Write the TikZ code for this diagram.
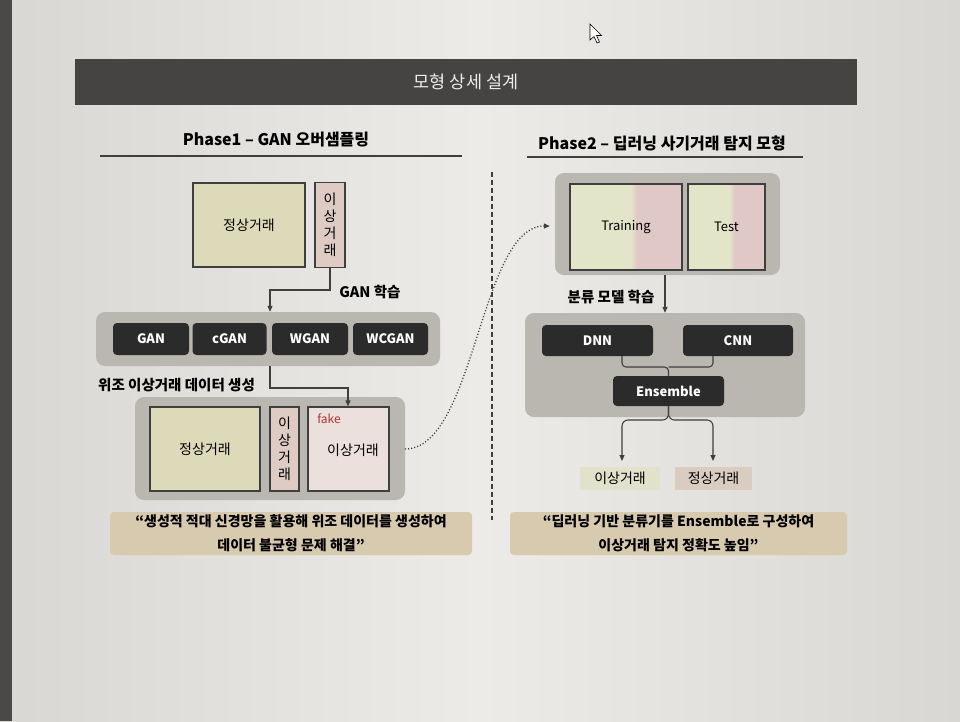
\documentclass[tikz,border=0pt]{standalone}
\usepackage{fontspec}
\setmainfont{Noto Sans CJK KR}
\usetikzlibrary{arrows.meta,calc}
\definecolor{bgc}{HTML}{D9D7D3}
\definecolor{bgl}{HTML}{ECEBE7}
\definecolor{strip}{HTML}{4B4947}
\definecolor{barc}{HTML}{454443}
\definecolor{panelc}{HTML}{BAB7B1}
\definecolor{darkc}{HTML}{2B2B2B}
\definecolor{khaki}{HTML}{DCDAB9}
\definecolor{pinkc}{HTML}{DDCBC4}
\definecolor{quotec}{HTML}{D7CAAF}
\definecolor{resa}{HTML}{E2E1CC}
\definecolor{resb}{HTML}{DACCC1}
\definecolor{linec}{HTML}{3F3F3F}
\definecolor{fakered}{HTML}{B03232}
\definecolor{traing}{HTML}{E3E5C8}
\definecolor{trainp}{HTML}{E0C8C6}
\pgfdeclarehorizontalshading{trainsh}{100bp}{color(0bp)=(traing); color(52bp)=(traing); color(55bp)=(trainp); color(100bp)=(trainp)}
\tikzset{
  panel/.style={fill=panelc, rounded corners=9pt, draw=none},
  darkbtn/.style={fill=darkc, rounded corners=4pt, text=white, font=\bfseries\fontsize{13}{15}\selectfont, inner sep=0pt},
  databox/.style={draw=linec, line width=1.3pt, inner sep=0pt, font=\fontsize{14}{16}\selectfont},
  vbox/.style={databox, fill=pinkc, align=center, font=\fontsize{14}{17}\selectfont},
  lbl/.style={font=\bfseries\fontsize{14.5}{16}\selectfont, inner sep=0pt},
  conn/.style={draw=linec, line width=1.1pt},
  arr/.style={conn, -{Triangle[length=6pt,width=5pt]}},
  quotebox/.style={fill=quotec, rounded corners=4pt, align=center, font=\bfseries\fontsize{14}{24}\selectfont, inner sep=0pt},
  phasettl/.style={font=\bfseries\fontsize{16}{18}\selectfont, inner sep=0pt},
  resbox/.style={inner sep=0pt, font=\fontsize{14}{16}\selectfont}
}
\begin{document}
\begin{tikzpicture}[x=1pt,y=-1pt]
\useasboundingbox (0,0) rectangle (960,721);
% background
\shade[left color=bgc, right color=bgc, middle color=bgl] (0,0) rectangle (960,721);
\fill[strip] (0,0) rectangle (12,721);
% mouse cursor
\draw[black, line width=0.6pt, fill=white] (590,24) -- (590,40) -- (594,36.5) -- (597,43) -- (599.5,42) -- (596.5,35.5) -- (601.5,35.5) -- cycle;
% title bar
\node[fill=barc, minimum width=782pt, minimum height=46pt, inner sep=0pt, text=white!85!gray, font=\fontsize{17.5}{19}\selectfont] (bar) at (466,82) {모형 상세 설계};
% Phase titles
\node[phasettl] (p1) at (276,140) {Phase1 – GAN 오버샘플링};
\draw[linec, line width=1.2pt] (100,156) -- (462,156);
\node[phasettl] (p2) at (662,143) {Phase2 – 딥러닝 사기거래 탐지 모형};
\draw[linec, line width=1.2pt] (527,157) -- (803,157);
% divider
\draw[linec, line width=1.5pt, dash pattern=on 5pt off 3pt] (492,172) -- (492,520);

% ---------- Phase 1 ----------
\node[databox, fill=khaki, minimum width=112pt, minimum height=84pt] (norm1) at (249,225) {정상거래};
\node[vbox, minimum width=30pt, minimum height=85pt] (abn1) at (330,225) {이\\상\\거\\래};

\node[panel, minimum width=344pt, minimum height=54pt] (ganpanel) at (268,339) {};
\node[darkbtn, minimum width=76pt, minimum height=32pt] (gan) at (151,339) {GAN};
\node[darkbtn, minimum width=74pt, minimum height=32pt] (cgan) at (229.5,339) {cGAN};
\node[darkbtn, minimum width=76pt, minimum height=32pt] (wgan) at (310,339) {WGAN};
\node[darkbtn, minimum width=75pt, minimum height=32pt] (wcgan) at (390.5,339) {WCGAN};

\node[lbl] (ganlbl) at (370,292) {GAN 학습};
\draw[arr] (abn1.south) -- (330,290) -| (ganpanel.north -| 270,0);

\node[lbl, anchor=west] (genlbl) at (98,385) {위조 이상거래 데이터 생성};

\node[panel, minimum width=270pt, minimum height=103pt] (panel3) at (270,448.5) {};
\node[databox, fill=khaki, minimum width=110pt, minimum height=84pt] (norm2) at (205,449) {정상거래};
\node[vbox, minimum width=29pt, minimum height=84pt] (abn2) at (284.5,449) {이\\상\\거\\래};
\node[databox, fill=pinkc!60!white, minimum width=81pt, minimum height=84pt] (fakebox) at (348.5,449) {};
\node[font=\fontsize{14}{16}\selectfont, inner sep=0pt] (fakelbl) at (353,450) {이상거래};
\node[font=\fontsize{12}{14}\selectfont, text=fakered, inner sep=0pt] (faketag) at (329,419) {fake};
\draw[arr] (ganpanel.south -| 270,0) -- (270,388) -| (fakebox.north -| 348,0);

\coordinate (cstart) at (405,449);

% ---------- Phase 2 ----------
\node[panel, minimum width=225pt, minimum height=102pt] (panel2) at (667.5,224) {};
\node[databox, minimum width=112pt, minimum height=86pt, shading=trainsh, font=\fontsize{13}{15}\selectfont] (train) at (626,227) {Training};
\node[databox, minimum width=77pt, minimum height=86pt, shading=trainsh, font=\fontsize{13}{15}\selectfont] (test) at (726.5,227) {Test};

\draw[conn, dotted, line width=1.3pt, -{Triangle[length=6pt,width=5pt]}] (cstart) .. controls (475,449) and (480,226) .. ($(panel2.west)+(-5,2)$);

\node[lbl] (clslbl) at (611,297) {분류 모델 학습};
\node[panel, minimum width=280pt, minimum height=104pt] (panel4) at (665,365) {};
\draw[arr] (panel2.south -| 665,0) -- (panel4.north -| 665,0);

\node[darkbtn, minimum width=111pt, minimum height=31pt] (dnn) at (597.5,340.5) {DNN};
\node[darkbtn, minimum width=110pt, minimum height=31pt] (cnn) at (738,340.5) {CNN};
\node[darkbtn, minimum width=111pt, minimum height=30pt] (ens) at (668.5,391) {Ensemble};
\draw[conn, rounded corners=4pt] (dnn.south -| 622,0) -- (622,367) -- (668.5,367) -- (ens.north);
\draw[conn, rounded corners=4pt] (cnn.south -| 713,0) -- (713,367) -- (668.5,367);

\node[resbox, fill=resa, minimum width=80pt, minimum height=23pt] (resabn) at (620,478.5) {이상거래};
\node[resbox, fill=resb, minimum width=77pt, minimum height=23pt] (resnorm) at (713.5,478.5) {정상거래};
\draw[arr, rounded corners=6pt] (ens.south) -- (668.5,420) -- (622,420) -- (622,461);
\draw[arr, rounded corners=6pt] (ens.south) -- (668.5,420) -- (713,420) -- (713,461);

% quotes
\node[quotebox, minimum width=362pt, minimum height=43pt] (q1) at (291,533.5) {“생성적 적대 신경망을 활용해 위조 데이터를 생성하여\\데이터 불균형 문제 해결”};
\node[quotebox, minimum width=337pt, minimum height=43pt] (q2) at (678.5,533.5) {“딥러닝 기반 분류기를 Ensemble로 구성하여\\이상거래 탐지 정확도 높임”};
\end{tikzpicture}
\end{document}
